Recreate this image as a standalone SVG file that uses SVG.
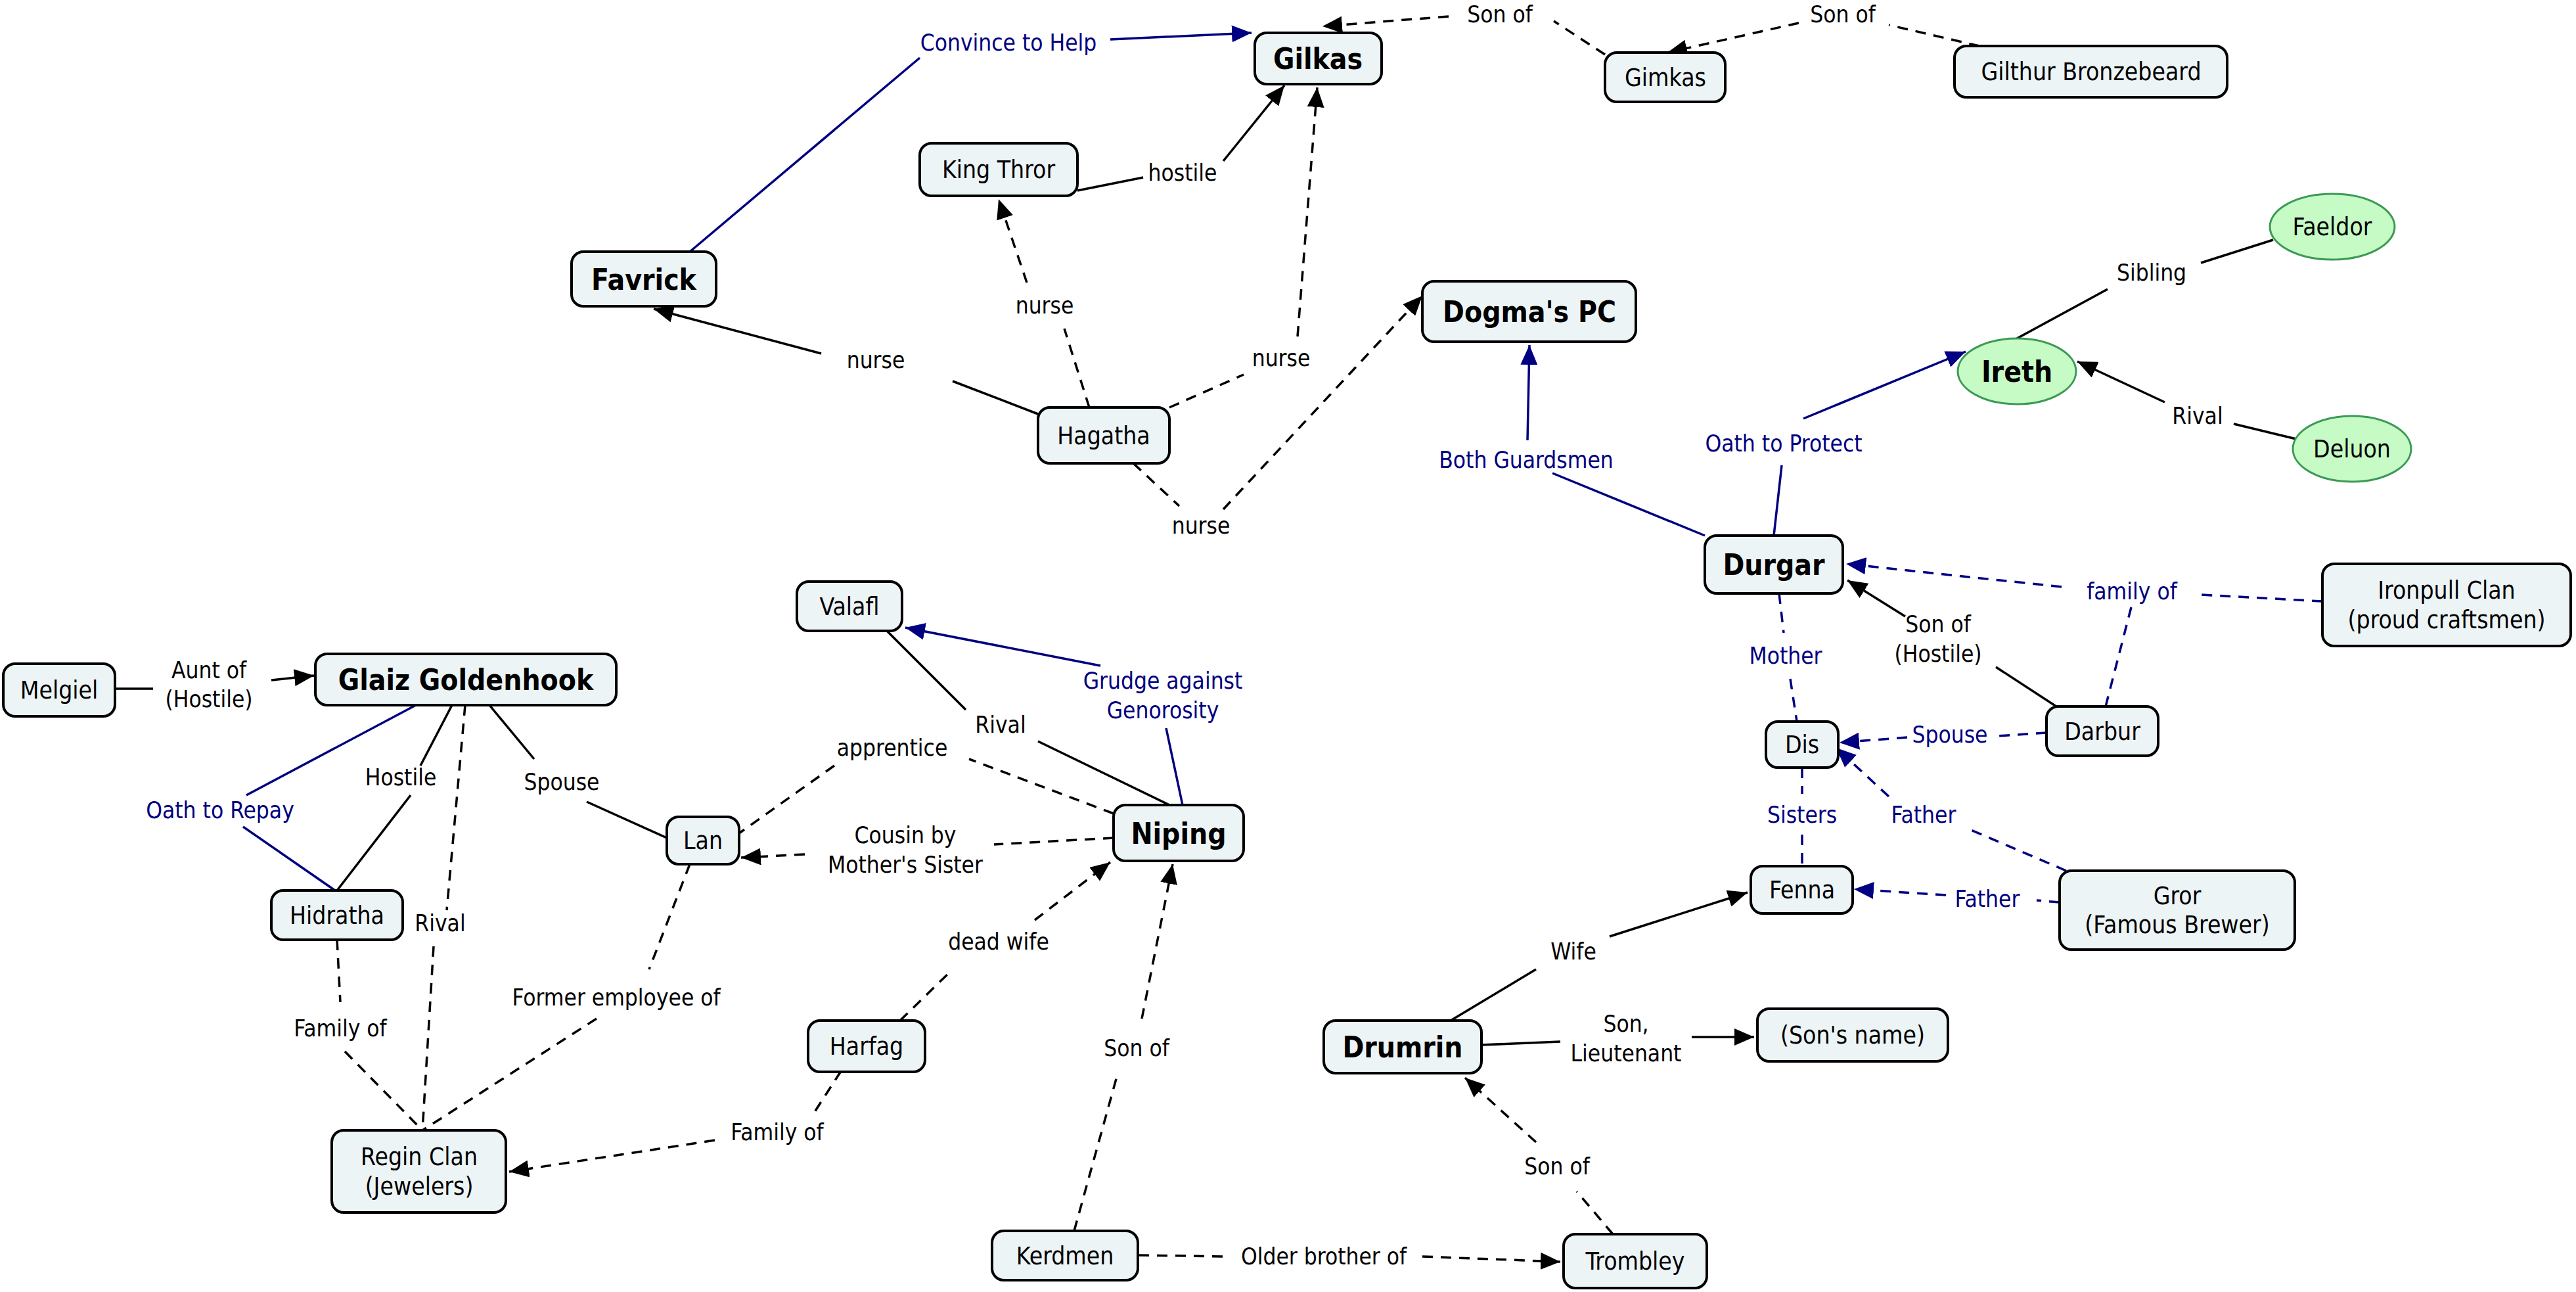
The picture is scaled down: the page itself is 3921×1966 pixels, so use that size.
<svg xmlns="http://www.w3.org/2000/svg" width="3921" height="1966" viewBox="0 0 3921 1966">
<style>
.n rect{fill:#edf4f6;stroke:#000;stroke-width:4}
.n ellipse{fill:#c6fbc6;stroke:#3c9a55;stroke-width:3}
text{font-family:"DejaVu Sans Condensed","DejaVu Sans",sans-serif;text-anchor:middle;dominant-baseline:central}
.n text{font-size:37px;fill:#000}
.n text.b{font-size:44px;font-weight:bold}
.l text{font-size:35px;fill:#000}
.l text.v{fill:#000080}
.e path{fill:none;stroke:#000;stroke-width:3.5}
.e path.v{stroke:#000080}
.e path.d{stroke-dasharray:16 12}
</style>
<defs>
<marker id="a" viewBox="0 0 30 26" refX="30" refY="13" markerWidth="30" markerHeight="26" markerUnits="userSpaceOnUse" orient="auto"><path d="M0,0L30,13L0,26z" fill="#000"/></marker>
<marker id="av" viewBox="0 0 30 26" refX="30" refY="13" markerWidth="30" markerHeight="26" markerUnits="userSpaceOnUse" orient="auto"><path d="M0,0L30,13L0,26z" fill="#000080"/></marker>
</defs>
<rect width="3921" height="1966" fill="#fff"/>
<g id="connectors" class="e">
<path class="v" d="M1050,383L1400,88"/><path class="v" d="M1690,60L1905,50" marker-end="url(#av)"/>
<path class="d" d="M2443,83L2365,32"/><path class="d" d="M2205,25L2013,40" marker-end="url(#a)"/>
<path class="d" d="M3013,70L2875,38"/><path class="d" d="M2738,35L2538,80" marker-end="url(#a)"/>
<path d="M1640,290L1740,270"/><path d="M1862,245L1955,130" marker-end="url(#a)"/>
<path class="d" d="M1658,620L1620,500"/><path class="d" d="M1563,430L1520,303" marker-end="url(#a)"/>
<path class="d" d="M1780,620L1893,570"/><path class="d" d="M1975,512L2005,133" marker-end="url(#a)"/>
<path d="M1580,630L1450,580"/><path d="M1250,538L995,470" marker-end="url(#a)"/>
<path class="d" d="M1725,705L1795,770"/><path class="d" d="M1862,775L2165,450" marker-end="url(#a)"/>
<path class="v" d="M2595,815L2363,720"/><path class="v" d="M2325,670L2328,525" marker-end="url(#av)"/>
<path class="v" d="M2700,815L2712,708"/><path class="v" d="M2745,637L2992,535" marker-end="url(#av)"/>
<path d="M3460,365L3350,400"/><path d="M3208,440L3070,515"/>
<path d="M3495,668L3400,645"/><path d="M3295,612L3162,550" marker-end="url(#a)"/>
<path class="v d" d="M3535,915L3350,905"/><path class="v d" d="M3138,893L2810,858" marker-end="url(#av)"/>
<path class="v d" d="M3205,1075L3245,920"/>
<path d="M3130,1075L3038,1015"/><path d="M2900,938L2812,883" marker-end="url(#a)"/>
<path class="v d" d="M2708,903L2715,963"/><path class="v d" d="M2725,1033L2735,1098"/>
<path class="v d" d="M3115,1115L3040,1120"/><path class="v d" d="M2903,1122L2800,1130" marker-end="url(#av)"/>
<path class="v d" d="M3145,1325L3000,1263"/><path class="v d" d="M2875,1212L2795,1138" marker-end="url(#av)"/>
<path class="v d" d="M2743,1168L2743,1208"/><path class="v d" d="M2743,1270L2743,1318"/>
<path class="v d" d="M3135,1373L3100,1370"/><path class="v d" d="M2962,1362L2822,1353" marker-end="url(#av)"/>
<path d="M2208,1553L2338,1475"/><path d="M2450,1425L2660,1358" marker-end="url(#a)"/>
<path d="M2255,1590L2375,1585"/><path d="M2575,1578L2670,1578" marker-end="url(#a)"/>
<path class="d" d="M2455,1878L2400,1813"/><path class="d" d="M2338,1738L2230,1640" marker-end="url(#a)"/>
<path class="d" d="M1733,1910L1863,1912"/><path class="d" d="M2165,1912L2375,1920" marker-end="url(#a)"/>
<path class="d" d="M1635,1873L1700,1638"/><path class="d" d="M1738,1550L1785,1315" marker-end="url(#a)"/>
<path class="d" d="M1370,1553L1450,1475"/><path class="d" d="M1575,1400L1690,1312" marker-end="url(#a)"/>
<path class="d" d="M1280,1630L1238,1695"/><path class="d" d="M1088,1735L775,1783" marker-end="url(#a)"/>
<path class="v" d="M1800,1225L1775,1108"/><path class="v" d="M1675,1013L1378,955" marker-end="url(#av)"/>
<path d="M1780,1225L1580,1128"/><path d="M1470,1080L1350,960"/>
<path class="d" d="M1695,1238L1475,1155"/><path class="d" d="M1270,1165L1125,1268"/>
<path class="d" d="M1695,1275L1513,1285"/><path class="d" d="M1225,1300L1128,1305" marker-end="url(#a)"/>
<path d="M745,1073L813,1155"/><path d="M893,1220L1015,1275"/>
<path d="M175,1048L233,1048"/><path d="M413,1035L478,1028" marker-end="url(#a)"/>
<path d="M688,1073L640,1165"/><path d="M625,1210L513,1355"/>
<path class="v" d="M633,1073L375,1210"/><path class="v" d="M370,1258L510,1355"/>
<path class="d" d="M708,1073L680,1385"/><path class="d" d="M660,1440L643,1720"/>
<path class="d" d="M513,1430L518,1525"/><path class="d" d="M525,1600L643,1720"/>
<path class="d" d="M1050,1315L988,1475"/><path class="d" d="M908,1550L643,1720"/>
</g>
<g id="labels" class="l">
<text class="v" x="1535" y="65">Convince to Help</text>
<text x="2283" y="22">Son of</text>
<text x="2805" y="22">Son of</text>
<text x="1800" y="263">hostile</text>
<text x="1590" y="465">nurse</text>
<text x="1950" y="545">nurse</text>
<text x="1333" y="548">nurse</text>
<text x="1828" y="800">nurse</text>
<text class="v" x="2323" y="700">Both Guardsmen</text>
<text class="v" x="2715" y="675">Oath to Protect</text>
<text x="3275" y="415">Sibling</text>
<text x="3345" y="633">Rival</text>
<text class="v" x="3245" y="900">family of</text>
<text x="2950" y="950">Son of</text><text x="2950" y="995">(Hostile)</text>
<text class="v" x="2718" y="998">Mother</text>
<text class="v" x="2968" y="1118">Spouse</text>
<text class="v" x="2928" y="1240">Father</text>
<text class="v" x="2743" y="1240">Sisters</text>
<text class="v" x="3025" y="1368">Father</text>
<text x="2395" y="1448">Wife</text>
<text x="2475" y="1558">Son,</text><text x="2475" y="1603">Lieutenant</text>
<text x="2370" y="1775">Son of</text>
<text x="2015" y="1912">Older brother of</text>
<text x="1730" y="1595">Son of</text>
<text x="1520" y="1433">dead wife</text>
<text x="1183" y="1723">Family of</text>
<text class="v" x="1770" y="1036">Grudge against</text><text class="v" x="1770" y="1081">Genorosity</text>
<text x="1523" y="1103">Rival</text>
<text x="1358" y="1138">apprentice</text>
<text x="1378" y="1271">Cousin by</text><text x="1378" y="1316">Mother's Sister</text>
<text x="855" y="1190">Spouse</text>
<text x="318" y="1020">Aunt of</text><text x="318" y="1064">(Hostile)</text>
<text x="610" y="1183">Hostile</text>
<text class="v" x="335" y="1233">Oath to Repay</text>
<text x="670" y="1405">Rival</text>
<text x="518" y="1565">Family of</text>
<text x="938" y="1518">Former employee of</text>
</g>
<g id="gilkas" class="n"><rect x="1910" y="50" width="193" height="78" rx="18"/><text class="b" x="2006" y="89">Gilkas</text></g>
<g id="gimkas" class="n"><rect x="2443" y="80" width="183" height="75" rx="18"/><text x="2535" y="118">Gimkas</text></g>
<g id="gilthur" class="n"><rect x="2975" y="70" width="415" height="78" rx="18"/><text x="3183" y="109">Gilthur Bronzebeard</text></g>
<g id="kingthror" class="n"><rect x="1400" y="218" width="240" height="80" rx="18"/><text x="1520" y="258">King Thror</text></g>
<g id="favrick" class="n"><rect x="870" y="383" width="220" height="83" rx="18"/><text class="b" x="980" y="425">Favrick</text></g>
<g id="dogma" class="n"><rect x="2165" y="428" width="325" height="92" rx="18"/><text class="b" x="2328" y="474">Dogma's PC</text></g>
<g id="faeldor" class="n"><ellipse cx="3550" cy="345" rx="95" ry="50"/><text x="3550" y="345">Faeldor</text></g>
<g id="ireth" class="n"><ellipse cx="3070" cy="565" rx="90" ry="50"/><text class="b" x="3070" y="565">Ireth</text></g>
<g id="deluon" class="n"><ellipse cx="3580" cy="683" rx="90" ry="50"/><text x="3580" y="683">Deluon</text></g>
<g id="hagatha" class="n"><rect x="1580" y="620" width="200" height="85" rx="18"/><text x="1680" y="663">Hagatha</text></g>
<g id="durgar" class="n"><rect x="2595" y="815" width="210" height="88" rx="18"/><text class="b" x="2700" y="859">Durgar</text></g>
<g id="ironpull" class="n"><rect x="3535" y="858" width="378" height="125" rx="18"/><text x="3724" y="898">Ironpull Clan</text><text x="3724" y="943">(proud craftsmen)</text></g>
<g id="valafl" class="n"><rect x="1213" y="885" width="160" height="75" rx="18"/><text x="1293" y="923">Valafl</text></g>
<g id="melgiel" class="n"><rect x="5" y="1010" width="170" height="80" rx="18"/><text x="90" y="1050">Melgiel</text></g>
<g id="glaiz" class="n"><rect x="480" y="995" width="458" height="78" rx="18"/><text class="b" x="709" y="1034">Glaiz Goldenhook</text></g>
<g id="dis" class="n"><rect x="2688" y="1098" width="110" height="70" rx="18"/><text x="2743" y="1133">Dis</text></g>
<g id="darbur" class="n"><rect x="3115" y="1075" width="170" height="75" rx="18"/><text x="3200" y="1113">Darbur</text></g>
<g id="lan" class="n"><rect x="1015" y="1243" width="110" height="72" rx="18"/><text x="1070" y="1279">Lan</text></g>
<g id="niping" class="n"><rect x="1695" y="1225" width="198" height="85" rx="18"/><text class="b" x="1794" y="1268">Niping</text></g>
<g id="hidratha" class="n"><rect x="413" y="1355" width="200" height="75" rx="18"/><text x="513" y="1393">Hidratha</text></g>
<g id="fenna" class="n"><rect x="2665" y="1318" width="155" height="72" rx="18"/><text x="2743" y="1354">Fenna</text></g>
<g id="gror" class="n"><rect x="3135" y="1325" width="358" height="120" rx="18"/><text x="3314" y="1363">Gror</text><text x="3314" y="1407">(Famous Brewer)</text></g>
<g id="harfag" class="n"><rect x="1230" y="1553" width="178" height="78" rx="18"/><text x="1319" y="1592">Harfag</text></g>
<g id="drumrin" class="n"><rect x="2015" y="1553" width="240" height="80" rx="18"/><text class="b" x="2135" y="1593">Drumrin</text></g>
<g id="sonsname" class="n"><rect x="2675" y="1535" width="290" height="80" rx="18"/><text x="2820" y="1575">(Son's name)</text></g>
<g id="regin" class="n"><rect x="505" y="1720" width="265" height="125" rx="18"/><text x="638" y="1760">Regin Clan</text><text x="638" y="1805">(Jewelers)</text></g>
<g id="kerdmen" class="n"><rect x="1510" y="1873" width="222" height="75" rx="18"/><text x="1621" y="1911">Kerdmen</text></g>
<g id="trombley" class="n"><rect x="2380" y="1878" width="218" height="82" rx="18"/><text x="2489" y="1919">Trombley</text></g>
</svg>
